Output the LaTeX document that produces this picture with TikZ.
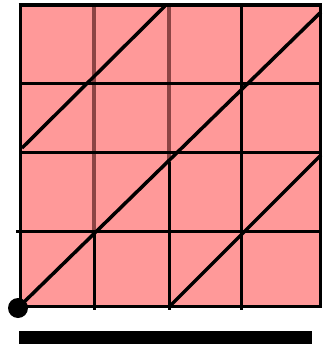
\documentclass[tikz,border=0pt]{standalone}
\usepackage{tikz}

\definecolor{cellpink}{RGB}{255,153,153}
\definecolor{darkrust}{RGB}{140,68,68}

\begin{document}
\begin{tikzpicture}[x=1pt, y=-1pt,
                grid/.style={line width=3pt, black},
                diag/.style={line width=3.5pt, black},
                shaded/.style={line width=3.5pt, darkrust}]
            \useasboundingbox (0,0) rectangle (328,347);

            \fill [cellpink] (20,5) rectangle (320,306);

            % coloured parts of the two inner verticals
            \draw [shaded] (94,5) -- (94,231);
            \draw [shaded] (169,5) -- (169,162);

            % grid
            \draw [grid] (94,231) -- (94,310);
            \draw [grid] (169,162) -- (169,310);
            \draw [grid] (241,5) -- (241,310);
            \draw [grid] (16,231) -- (320,231);
            \draw [grid] (20,153) -- (320,153);
            \draw [grid] (20,84) -- (320,84);

            % diagonals
            \draw [diag] (20,306) -- (321,12);
            \draw [diag] (22,148) -- (165,6);
            \draw [diag] (170,306) -- (321,155);

            % frame
            \draw [grid] (20,306) -- (320,306) -- (320,5);
            \draw [grid] (20,5) -- (20,306);
            \draw [line width=4.5pt] (18.5,5) -- (321.5,5);

            \fill (18,308) circle (10);
            \fill (19,331) rectangle (312,344);
        \end{tikzpicture}
\end{document}
